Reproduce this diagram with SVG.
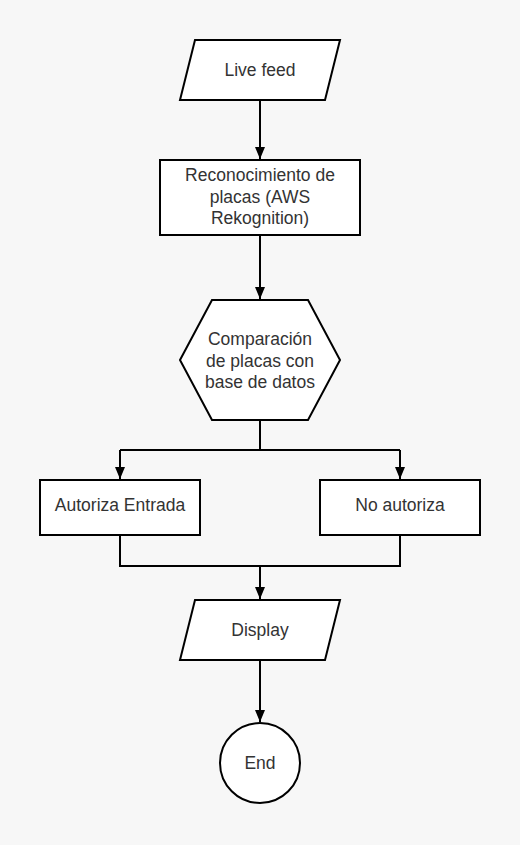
<svg xmlns="http://www.w3.org/2000/svg" width="520" height="845" viewBox="0 0 520 845">
<style>
.shape{fill:#ffffff;stroke:#000000;stroke-width:2}
.line{fill:none;stroke:#000000;stroke-width:2}
text{font-family:"Liberation Sans",Arial,sans-serif;font-size:17.5px;fill:#333333;text-anchor:middle}
</style>
<defs>
<marker id="arrow" markerWidth="12" markerHeight="12" viewBox="0 0 12 12" refX="12" refY="6" orient="auto" markerUnits="userSpaceOnUse">
<path d="M0,1 L12,6 L0,11 Z" fill="#000000"/>
</marker>
</defs>
<rect width="520" height="845" fill="#f7f7f7"/>
<g id="connectors">
<path class="line" d="M260,100 L260,159" marker-end="url(#arrow)"/>
<path class="line" d="M260,235 L260,299" marker-end="url(#arrow)"/>
<path class="line" d="M260,420 L260,450 M120,450 L400,450"/>
<path class="line" d="M120,450 L120,479" marker-end="url(#arrow)"/>
<path class="line" d="M400,450 L400,479" marker-end="url(#arrow)"/>
<path class="line" d="M120,535 L120,566 L400,566 L400,535"/>
<path class="line" d="M260,566 L260,599" marker-end="url(#arrow)"/>
<path class="line" d="M260,660 L260,722" marker-end="url(#arrow)"/>
</g>
<g id="live-feed">
<polygon class="shape" points="195,40 340,40 325,100 180,100"/>
<text x="260" y="76">Live feed</text>
</g>
<g id="reconocimiento">
<rect class="shape" x="160" y="160" width="200" height="75"/>
<text x="260" y="181">Reconocimiento de</text>
<text x="260" y="203">placas (AWS</text>
<text x="260" y="224">Rekognition)</text>
</g>
<g id="comparacion">
<polygon class="shape" points="212,300 308,300 340,360 308,420 212,420 180,360"/>
<text x="260" y="345">Comparación</text>
<text x="260" y="367">de placas con</text>
<text x="260" y="388">base de datos</text>
</g>
<g id="autoriza">
<rect class="shape" x="40" y="480" width="160" height="55"/>
<text x="120" y="511">Autoriza Entrada</text>
</g>
<g id="no-autoriza">
<rect class="shape" x="320" y="480" width="160" height="55"/>
<text x="400" y="511">No autoriza</text>
</g>
<g id="display">
<polygon class="shape" points="195,600 340,600 325,660 180,660"/>
<text x="260" y="636">Display</text>
</g>
<g id="end">
<circle class="shape" cx="260" cy="763" r="40"/>
<text x="260" y="769">End</text>
</g>
</svg>
